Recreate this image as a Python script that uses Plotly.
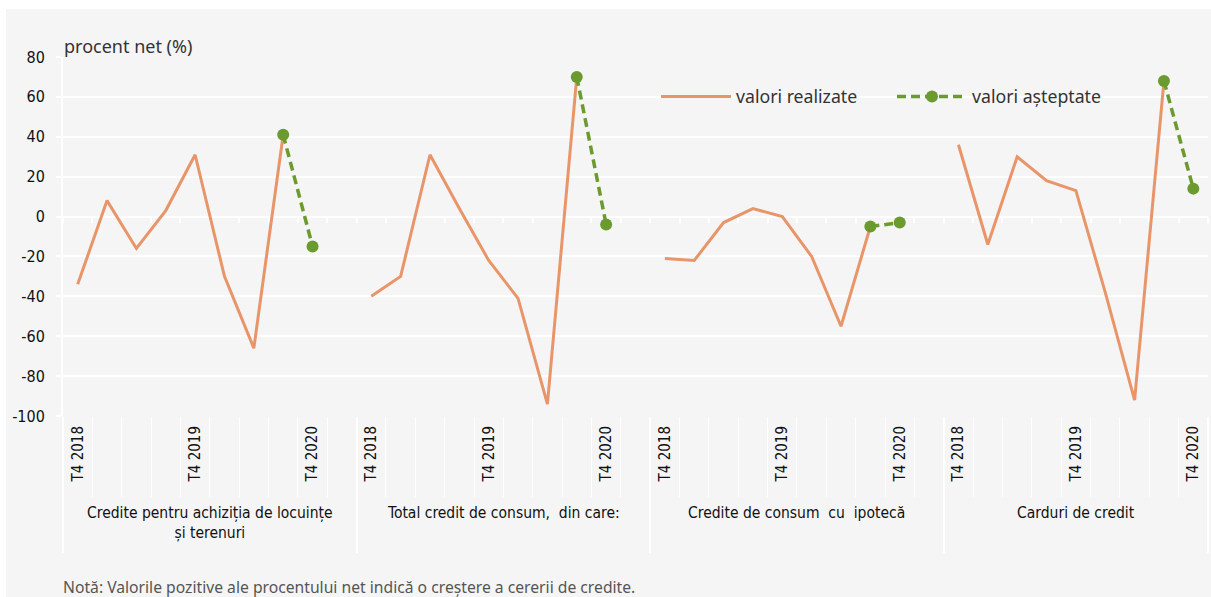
import plotly.graph_objects as go

# ---------------- data ----------------
groups = [
    "Credite pentru achiziția de locuințe<br>și terenuri",
    "Total credit de consum,  din care:",
    "Credite de consum  cu  ipotecă",
    "Carduri de credit",
]
quarters = ["T4 2018", "T1 2019", "T2 2019", "T3 2019", "T4 2019",
            "T1 2020", "T2 2020", "T3 2020", "T4 2020"]
shown_ticks = ["T4 2018", "T4 2019", "T4 2020"]

realized_housing = [-34, 8, -16, 3, 31, -30, -66, 41, None]
realized_consumer = [-40, -30, 31, 4, -22, -41, -94, 70, None]
realized_mortgage = [-21, -22, -3, 4, 0, -20, -55, -5, None]
realized_cards = [36, -14, 30, 18, 13, -38, -92, 68, None]

expected_housing = [None, None, None, None, None, None, None, 41, -15]
expected_consumer = [None, None, None, None, None, None, None, 70, -4]
expected_mortgage = [None, None, None, None, None, None, None, -5, -3]
expected_cards = [None, None, None, None, None, None, None, 68, 14]

realized = [realized_housing, realized_consumer, realized_mortgage, realized_cards]
expected = [expected_housing, expected_consumer, expected_mortgage, expected_cards]

y_ticks = [80, 60, 40, 20, 0, -20, -40, -60, -80, -100]

# ---------------- build category positions ----------------
GROUP_SLOTS = 10  # 9 quarters + one empty slot between groups
xs, yr, ye = [], [], []
for g in range(len(groups)):
    for q in range(len(quarters)):
        xs.append(g * GROUP_SLOTS + q)
        yr.append(realized[g][q])
        ye.append(expected[g][q])
    if g < len(groups) - 1:
        xs.append(g * GROUP_SLOTS + len(quarters))
        yr.append(None)
        ye.append(None)

n_cat = xs[-1] + 1
boundaries = [i - 0.5 for i in range(n_cat + 1)]
group_bounds = [-0.5] + [g * GROUP_SLOTS + len(quarters) + 0.5 for g in range(len(groups) - 1)] + [n_cat - 0.5]
group_centers = [(group_bounds[i] + group_bounds[i + 1]) / 2 for i in range(len(groups))]

tickvals, ticktext = [], []
for g in range(len(groups)):
    for q, lab in enumerate(quarters):
        if lab in shown_ticks:
            tickvals.append(g * GROUP_SLOTS + q)
            ticktext.append(lab)

ORANGE = "#E8956A"
GREEN = "#6B9B2E"
GRAY_BG = "#F5F5F5"
COND = "DejaVu Sans Condensed, Liberation Sans Narrow, sans-serif"
REG = "Noto Sans, Open Sans, sans-serif"

fig = go.Figure()
# helper traces so the overlay axes are drawn
fig.add_trace(go.Scatter(x=[None], y=[None], xaxis="x2", showlegend=False, hoverinfo="skip"))
fig.add_trace(go.Scatter(x=[None], y=[None], showlegend=False, hoverinfo="skip"))
# data traces live on the top-most overlay so they sit above all tick marks
fig.add_trace(go.Scatter(
    x=xs, y=yr, mode="lines", name="valori realizate", xaxis="x3",
    line=dict(color=ORANGE, width=3), connectgaps=False,
))
fig.add_trace(go.Scatter(
    x=xs, y=ye, mode="lines+markers", name="valori așteptate", xaxis="x3",
    line=dict(color=GREEN, width=3.5, dash="9px,5px"),
    marker=dict(color=GREEN, size=12), connectgaps=False,
))

L, R, T, B = 63, 3, 57, 181
W, H = 1211, 597
pw, ph = W - L - R, H - T - B

def px_x(p):
    return (p - L) / pw

def px_y(p):
    return (H - B - p) / ph

xr = [-0.5, n_cat - 0.5]
yrange = [min(y_ticks), max(y_ticks)]

fig.update_layout(
    width=W, height=H,
    margin=dict(l=L, r=R, t=T, b=B, autoexpand=False),
    paper_bgcolor="white",
    plot_bgcolor=GRAY_BG,
    xaxis=dict(
        range=xr, tickmode="array", tickvals=tickvals, ticktext=ticktext,
        tickangle=-90, ticks="", showgrid=False, zeroline=False, showline=False,
        tickfont=dict(family=COND, size=15, color="#111111"),
        ticklabelstandoff=6,
        minor=dict(tickmode="array", tickvals=boundaries, ticks="outside",
                   ticklen=80, tickcolor="white", tickwidth=1, showgrid=False),
    ),
    xaxis2=dict(
        range=xr, overlaying="x", anchor="y", side="bottom",
        tickmode="array", tickvals=group_bounds, ticks="outside",
        ticklen=136, tickcolor="white", tickwidth=1.5,
        showticklabels=False, showgrid=False, zeroline=False, showline=False,
    ),
    xaxis3=dict(
        range=xr, overlaying="x", anchor="free", layer="below traces",
        position=(0 - yrange[0]) / (yrange[1] - yrange[0]), side="bottom",
        tickmode="array", tickvals=boundaries, ticks="outside",
        ticklen=5, tickcolor="white", tickwidth=2,
        showticklabels=False, showgrid=False, zeroline=False, showline=False,
    ),
    yaxis=dict(
        range=yrange, tickmode="array", tickvals=y_ticks,
        ticktext=[f"{v}" for v in y_ticks],
        showgrid=True, gridcolor="white", gridwidth=2,
        zeroline=True, zerolinecolor="white", zerolinewidth=2,
        showline=True, linecolor="white", linewidth=2,
        ticks="outside", ticklen=5, tickcolor="white", tickwidth=2,
        ticklabelstandoff=8,
        tickfont=dict(family=COND, size=16, color="#111111"),
    ),
    legend=dict(
        orientation="h", x=px_x(656), y=px_y(97), xanchor="left", yanchor="middle",
        bgcolor="rgba(0,0,0,0)", font=dict(family=REG, size=17.7, color="#333333"),
        entrywidth=151, itemwidth=70,
    ),
    showlegend=True,
    shapes=[dict(
        type="rect", xref="paper", yref="paper", layer="below",
        x0=px_x(6), x1=px_x(W + 5), y0=px_y(H + 5), y1=px_y(9),
        fillcolor=GRAY_BG, line=dict(width=0),
    )],
)

annotations = [
    dict(text="procent net (%)", xref="paper", yref="paper",
         x=px_x(62), y=px_y(46), xanchor="left", yanchor="middle", showarrow=False,
         font=dict(family=REG, size=18, color="#333333")),
    dict(text="Notă: Valorile pozitive ale procentului net indică o creștere a cererii de credite.",
         xref="paper", yref="paper", x=px_x(61), y=px_y(587), xanchor="left", yanchor="middle",
         showarrow=False, font=dict(family=REG, size=15.7, color="#555555")),
]
for c, name in zip(group_centers, groups):
    annotations.append(dict(
        text=name, xref="x", yref="paper", x=c, y=px_y(502),
        xanchor="center", yanchor="top", showarrow=False,
        font=dict(family=COND, size=15.5, color="#111111"),
    ))
fig.update_layout(annotations=annotations)

fig.write_html("out.html")
